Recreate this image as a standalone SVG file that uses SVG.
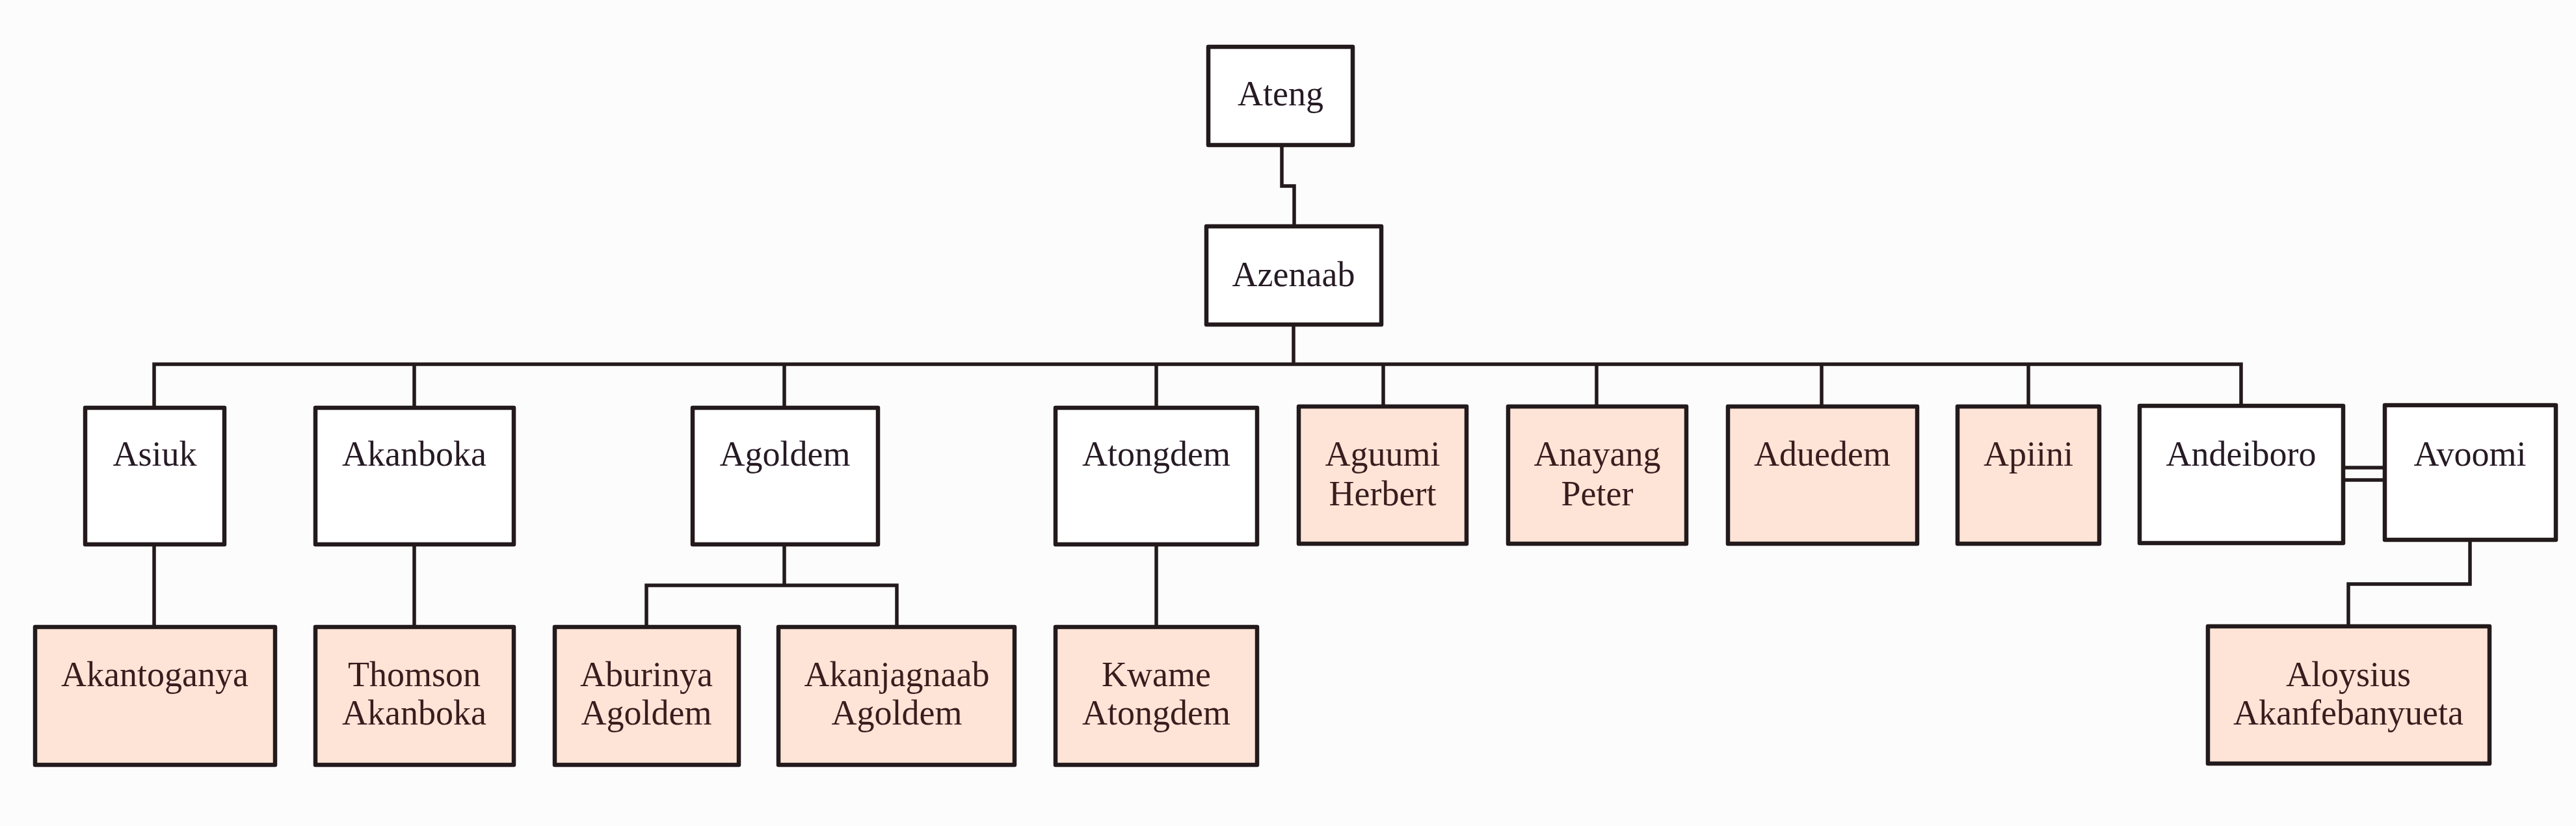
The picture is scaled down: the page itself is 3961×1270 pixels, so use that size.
<svg xmlns="http://www.w3.org/2000/svg" width="3961" height="1270" viewBox="0 0 3961 1270">
<style>
.box{fill:#ffffff;stroke:#231a1c;stroke-width:6.5;stroke-linejoin:round}
.peach{fill:#fde4d6;stroke:#231a1c;stroke-width:6.5;stroke-linejoin:round}
.lbl{font-family:"Liberation Serif","Times New Roman",serif;font-size:54px;fill:#261a24;text-anchor:middle}
.lblp{font-family:"Liberation Serif","Times New Roman",serif;font-size:54px;fill:#3a1c1e;text-anchor:middle}
.ln{fill:none;stroke:#231a1c;stroke-width:5.5;stroke-linejoin:miter}
</style>
<rect width="3961" height="1270" fill="#fdfcfd"/>
<g id="connectors">
<path class="ln" d="M1971 222 V286 H1990 V348"/>
<path class="ln" d="M1989 499 V560"/>
<path class="ln" d="M237 627 V560 H3446 V625"/>
<path class="ln" d="M637 560 V627"/>
<path class="ln" d="M1206 560 V627"/>
<path class="ln" d="M1778 560 V627"/>
<path class="ln" d="M2127 560 V625"/>
<path class="ln" d="M2455 560 V625"/>
<path class="ln" d="M2801 560 V625"/>
<path class="ln" d="M3119 560 V625"/>
<path class="ln" d="M237 837 V964"/>
<path class="ln" d="M637 837 V964"/>
<path class="ln" d="M1206 837 V900 M994 964 V900 H1379 V964"/>
<path class="ln" d="M1778 837 V964"/>
<path class="ln" d="M3603 719 H3667 M3603 738 H3667"/>
<path class="ln" d="M3798 830 V898 H3611 V963"/>
</g>
<g id="ateng"><rect class="box" x="1858" y="72" width="222" height="151"/><text class="lbl" x="1969" y="162">Ateng</text></g>
<g id="azenaab"><rect class="box" x="1855" y="348" width="269" height="151"/><text class="lbl" x="1989" y="440">Azenaab</text></g>
<g id="asiuk"><rect class="box" x="131" y="627" width="214" height="210"/><text class="lbl" x="238" y="716">Asiuk</text></g>
<g id="akanboka"><rect class="box" x="485" y="627" width="305" height="210"/><text class="lbl" x="637" y="716">Akanboka</text></g>
<g id="agoldem"><rect class="box" x="1065" y="627" width="285" height="210"/><text class="lbl" x="1207" y="716">Agoldem</text></g>
<g id="atongdem"><rect class="box" x="1623" y="627" width="310" height="210"/><text class="lbl" x="1778" y="716">Atongdem</text></g>
<g id="aguumi"><rect class="peach" x="1997" y="625" width="258" height="211"/><text class="lblp" x="2126" y="716">Aguumi</text><text class="lblp" x="2126" y="777">Herbert</text></g>
<g id="anayang"><rect class="peach" x="2319" y="625" width="274" height="211"/><text class="lblp" x="2456" y="716">Anayang</text><text class="lblp" x="2456" y="777">Peter</text></g>
<g id="aduedem"><rect class="peach" x="2657" y="625" width="291" height="211"/><text class="lblp" x="2802" y="716">Aduedem</text></g>
<g id="apiini"><rect class="peach" x="3010" y="625" width="218" height="211"/><text class="lblp" x="3119" y="716">Apiini</text></g>
<g id="andeiboro"><rect class="box" x="3290" y="624" width="313" height="211"/><text class="lbl" x="3446" y="716">Andeiboro</text></g>
<g id="avoomi"><rect class="box" x="3667" y="623" width="263" height="207"/><text class="lbl" x="3798" y="716">Avoomi</text></g>
<g id="akantoganya"><rect class="peach" x="54" y="964" width="369" height="212"/><text class="lblp" x="238" y="1055">Akantoganya</text></g>
<g id="thomson"><rect class="peach" x="485" y="964" width="305" height="212"/><text class="lblp" x="637" y="1055">Thomson</text><text class="lblp" x="637" y="1114">Akanboka</text></g>
<g id="aburinya"><rect class="peach" x="853" y="964" width="283" height="212"/><text class="lblp" x="994" y="1055">Aburinya</text><text class="lblp" x="994" y="1114">Agoldem</text></g>
<g id="akanjagnaab"><rect class="peach" x="1197" y="964" width="363" height="212"/><text class="lblp" x="1379" y="1055">Akanjagnaab</text><text class="lblp" x="1379" y="1114">Agoldem</text></g>
<g id="kwame"><rect class="peach" x="1623" y="964" width="310" height="212"/><text class="lblp" x="1778" y="1055">Kwame</text><text class="lblp" x="1778" y="1114">Atongdem</text></g>
<g id="aloysius"><rect class="peach" x="3395" y="963" width="433" height="211"/><text class="lblp" x="3611" y="1055">Aloysius</text><text class="lblp" x="3611" y="1114">Akanfebanyueta</text></g>
</svg>
